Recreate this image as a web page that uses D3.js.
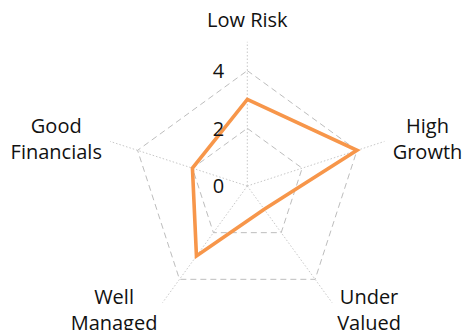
<!DOCTYPE html>
<html><head><meta charset="utf-8">
<script src="https://cdn.jsdelivr.net/npm/d3@7"></script>
<style>html,body{margin:0;padding:0;background:#fff}svg{display:block}</style>
</head><body>
<svg id="chart" width="462" height="330"></svg>
<script>
const axes = [["Low","Risk"],["High","Growth"],["Under","Valued"],["Well","Managed"],["Good","Financials"]];
const axisTitles = ["Low Risk","High Growth","Under Valued","Well Managed","Good Financials"];
const values = [3, 4, 1, 3, 2];
const tickValues = [0, 2, 4];
const gridValues = [2, 4];
const maxValue = 5;

const W = 462, H = 330;
const cx = 247.3, cy = 186;
const svg = d3.select("#chart");
const font = "'Open Sans', sans-serif";
const r = d3.scaleLinear().domain([0, maxValue]).range([0, 144.2]);
const n = axisTitles.length;
const ang = d3.scaleLinear().domain([0, n]).range([0, 2*Math.PI]);
const pt = (i, v) => [cx + r(v)*Math.sin(ang(i)), cy - r(v)*Math.cos(ang(i))];

const g = svg.append("g");
// spokes
axisTitles.forEach((t, i) => {
  const [x, y] = pt(i, maxValue);
  g.append("line").attr("x1", cx).attr("y1", cy).attr("x2", x).attr("y2", y)
    .attr("stroke", "#c8c8c8").attr("stroke-width", 1).attr("stroke-dasharray", "1.5,2");
});
// grid pentagons
gridValues.forEach(v => {
  const pts = d3.range(n).map(i => pt(i, v));
  g.append("path").attr("d", d3.line()(pts) + "Z")
    .attr("fill", "none").attr("stroke", "#bdbdbd").attr("stroke-width", 1).attr("stroke-dasharray", "6,4");
});
// data
const dpts = values.map((v, i) => pt(i, v));
g.append("path").attr("d", d3.line()(dpts) + "Z")
  .attr("fill", "none").attr("stroke", "#f7964a").attr("stroke-width", 3.6).attr("stroke-linejoin", "miter");
// tick labels
tickValues.forEach(v => {
  g.append("text").attr("x", cx - 23).attr("y", cy - r(v)).attr("dy", "0.36em")
    .attr("text-anchor", "end").attr("font-family", font).attr("font-size", 20).attr("fill", "#111").text(v);
});
// axis labels
const R = r(5.3);
const lh = 26;
axes.forEach((lines, i) => {
  const a = ang(i);
  const sx = Math.sin(a), cyy = -Math.cos(a);
  const [px, py] = [cx + R*sx, cy + R*cyy];
  const t = g.append("text").attr("font-family", font).attr("font-size", 20).attr("fill", "#111").attr("text-anchor", "middle");
  if (i === 0) {
    t.attr("x", px).attr("y", py - 6).text(axisTitles[i]);
  } else {
    const w = d3.max(lines, s => s.length) ; // placeholder
    const tmp = [];
    lines.forEach((s, k) => {
      tmp.push(t.append("tspan").attr("x", 0).attr("y", py - 6 + k*lh).text(s));
    });
    // measure block width then anchor by edge
    const bw = d3.max(tmp, ts => ts.node().getComputedTextLength());
    const xc = sx > 0 ? px + bw/2 : px - bw/2;
    tmp.forEach(ts => ts.attr("x", xc));
  }
});
</script>
</body></html>
